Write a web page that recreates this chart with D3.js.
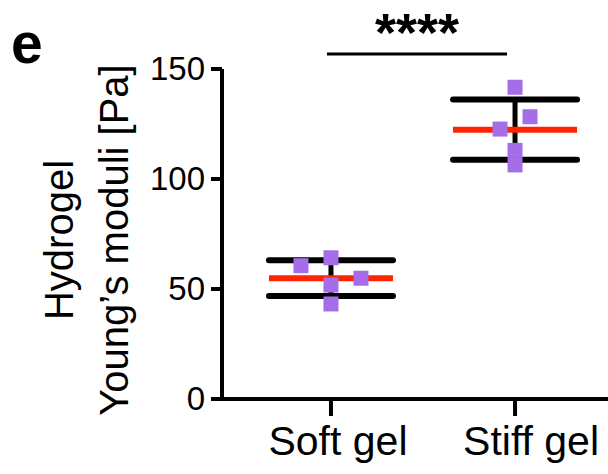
<!DOCTYPE html>
<html>
<head>
<meta charset="utf-8">
<script src="https://cdn.jsdelivr.net/npm/d3@7"></script>
<style>
  html, body { margin: 0; padding: 0; background: #fff; }
  svg { display: block; font-family: Arial, "Liberation Sans", Helvetica, sans-serif; }
</style>
</head>
<body>
<svg id="chart" width="608" height="474"></svg>
<script>
// Young's modulus of each hydrogel sample, one array per group
const categories = ["Soft gel", "Stiff gel"];
const softValues = [60.6, 64.2, 54.9, 51.8, 43.2];
const stiffValues = [141.7, 128.3, 122.7, 113.0, 106.4];
// horizontal spread of the scatter markers, in marker widths
const softSpread = [-2, 0, 2, 0, 0];
const stiffSpread = [0, 1, -1, 0, 0];
const yTicks = [0, 50, 100, 150];
const significance = "****";

const groups = [
  { name: categories[0], values: softValues, spread: softSpread },
  { name: categories[1], values: stiffValues, spread: stiffSpread }
];
groups.forEach(g => {
  g.mean = d3.mean(g.values);
  g.sd = d3.deviation(g.values);
});

const svg = d3.select("#chart");
const purple = "#a56ee8";
const red = "#ff2400";
const marker = 15;

const x = d3.scalePoint().domain(categories).range([222, 624]).padding(0.592);
const y = d3.scaleLinear().domain([0, 150]).range([399, 69]);

// y axis
const yAxis = svg.append("g")
  .attr("transform", "translate(222,0)")
  .call(d3.axisLeft(y).tickValues(yTicks).tickSize(11).tickSizeOuter(0).tickPadding(6).offset(0));
yAxis.selectAll("path, line").attr("stroke", "#000").attr("stroke-width", 4);
yAxis.select(".domain").attr("d", `M0,${y(150)}V${y(0) + 2}`);
yAxis.selectAll("text").attr("font-size", 33).attr("fill", "#000")
  .attr("font-family", "Arial, 'Liberation Sans', sans-serif");

// x axis
const xAxis = svg.append("g")
  .attr("transform", `translate(0,${y(0)})`)
  .call(d3.axisBottom(x).tickSize(17).tickSizeOuter(0).tickPadding(10).offset(0));
xAxis.selectAll("path, line").attr("stroke", "#000").attr("stroke-width", 4);
xAxis.selectAll("text").attr("font-size", 41).attr("fill", "#000")
  .attr("font-family", "Arial, 'Liberation Sans', sans-serif")
  .attr("dy", "0.71em")
  .attr("dx", (d, i) => i === 0 ? 7 : 16);

// mean ± SD error bars
const bars = svg.append("g").selectAll("g").data(groups).join("g")
  .attr("transform", d => `translate(${x(d.name)},0)`);
bars.append("line")
  .attr("x1", 0).attr("x2", 0)
  .attr("y1", d => y(d.mean + d.sd)).attr("y2", d => y(d.mean - d.sd))
  .attr("stroke", "#000").attr("stroke-width", 5);
bars.selectAll(".cap").data(d => [d.mean + d.sd, d.mean - d.sd]).join("line")
  .attr("class", "cap")
  .attr("x1", -62).attr("x2", 62)
  .attr("y1", v => y(v)).attr("y2", v => y(v))
  .attr("stroke", "#000").attr("stroke-width", 6).attr("stroke-linecap", "round");
bars.append("line")
  .attr("x1", -62).attr("x2", 62)
  .attr("y1", d => y(d.mean)).attr("y2", d => y(d.mean))
  .attr("stroke", red).attr("stroke-width", 6);

// individual samples
bars.selectAll("rect").data(d => d.values.map((v, i) => ({ v, s: d.spread[i] }))).join("rect")
  .attr("x", p => p.s * marker - marker / 2)
  .attr("y", p => y(p.v) - marker / 2)
  .attr("width", marker).attr("height", marker)
  .attr("fill", purple);

// significance bracket
const x0 = x(categories[0]) - 4, x1 = x(categories[1]) - 8;
svg.append("line")
  .attr("x1", x0).attr("x2", x1).attr("y1", 54).attr("y2", 54)
  .attr("stroke", "#000").attr("stroke-width", 3);
svg.append("text")
  .attr("x", (x0 + x1) / 2).attr("y", 51)
  .attr("text-anchor", "middle").attr("font-size", 54).attr("font-weight", "bold")
  .text(significance);

// y axis title
const title = svg.append("text")
  .attr("transform", "translate(0,240) rotate(-90)")
  .attr("text-anchor", "middle").attr("font-size", 40).attr("fill", "#000");
title.append("tspan").attr("x", 0).attr("y", 73).text("Hydrogel");
title.append("tspan").attr("x", 0).attr("y", 128).text("Young’s moduli [Pa]");

// panel letter
svg.append("text")
  .attr("x", 11).attr("y", 63)
  .attr("font-size", 57).attr("font-weight", "bold").text("e");
</script>
</body>
</html>
